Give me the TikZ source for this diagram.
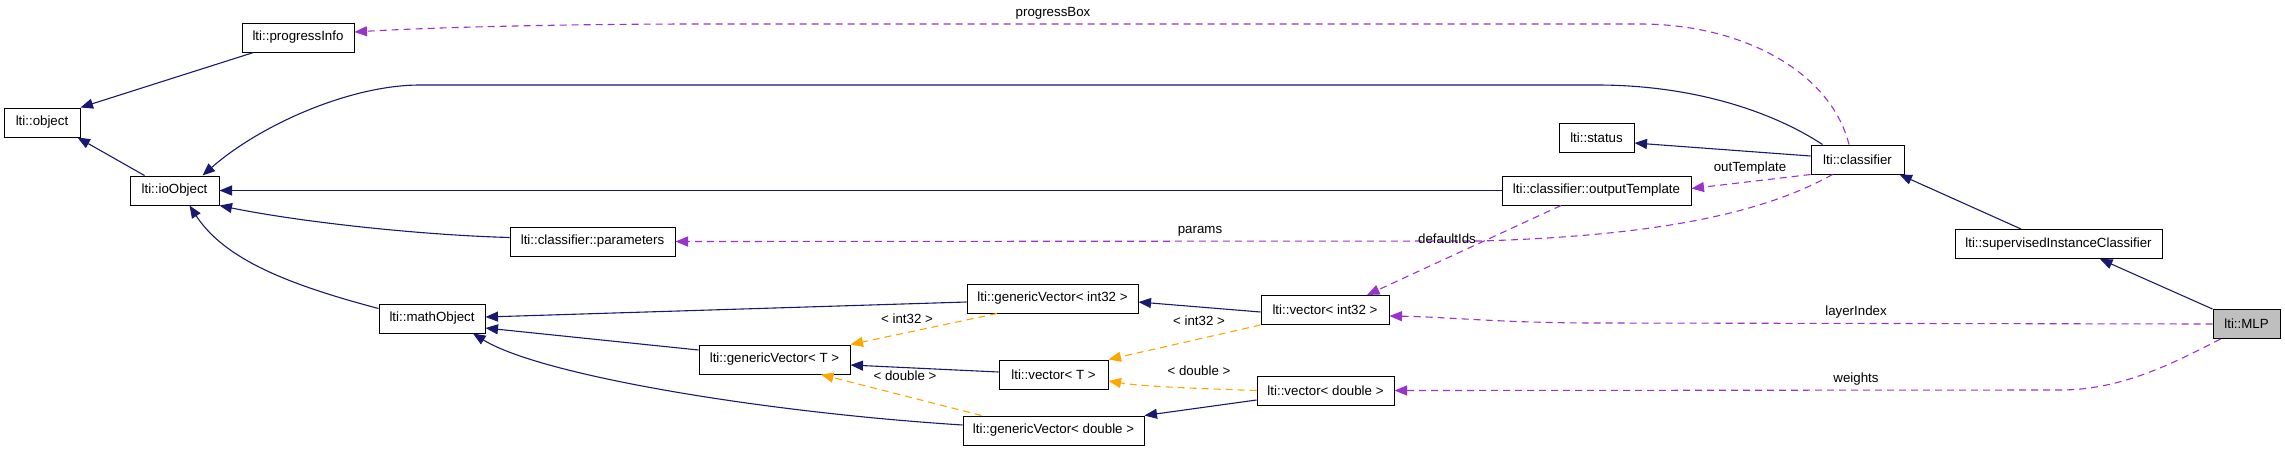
\documentclass[tikz,border=0pt]{standalone}
\usepackage{fontspec}
\setmainfont{Liberation Sans}
\usetikzlibrary{arrows.meta}

\definecolor{inhblue}{HTML}{191970}
\definecolor{usepurple}{HTML}{9A32CD}
\definecolor{tmplorange}{HTML}{FFA500}
\definecolor{selgray}{HTML}{BFBFBF}

\begin{document}
\begin{tikzpicture}[x=1pt, y=-1pt,
    font=\fontsize{13.3}{15}\selectfont,
    cls/.style={draw, rectangle, line width=1pt, text centered, minimum height=29pt, inner sep=0pt},
    inh/.style={inhblue, line width=1.1pt, -{Triangle[length=12.5pt,width=10pt]}},
    usage/.style={usepurple, line width=1.1pt, dash pattern=on 7pt off 5pt, -{Triangle[length=12.5pt,width=10pt]}},
    tmpl/.style={tmplorange, line width=1.1pt, dash pattern=on 7pt off 5pt, -{Triangle[length=12.5pt,width=10pt]}},
    lbl/.style={inner sep=0pt}]

    \useasboundingbox (0,0) rectangle (2285,451);

    % Nodes for the base classes
    \node (object) [cls, minimum width=76pt] at (42,122.5) {lti::object};
    \node (progressInfo) [cls, minimum width=112pt] at (298,37.5) {lti::progressInfo};
    \node (ioObject) [cls, minimum width=89pt] at (174.5,190.5) {lti::ioObject};
    \node (parameters) [cls, minimum width=165pt] at (592.5,241.5) {lti::classifier::parameters};
    \node (mathObject) [cls, minimum width=106pt] at (432,318.5) {lti::mathObject};

    % Nodes for the vector templates
    \node (gVint32) [cls, minimum width=171pt] at (1052.5,298.5) {lti::genericVector< int32 >};
    \node (gVT) [cls, minimum width=151pt] at (774.5,359.5) {lti::genericVector< T >};
    \node (gVdouble) [cls, minimum width=181pt] at (1053.5,430.5) {lti::genericVector< double >};
    \node (vint32) [cls, minimum width=128pt] at (1325,310) {lti::vector< int32 >};
    \node (vT) [cls, minimum width=109pt] at (1053.5,374.5) {lti::vector< T >};
    \node (vdouble) [cls, minimum width=137pt] at (1325.5,390.5) {lti::vector< double >};

    % Nodes for the classifiers
    \node (status) [cls, minimum width=75pt] at (1596.5,137.5) {lti::status};
    \node (classifier) [cls, minimum width=93pt] at (1857.5,159.5) {lti::classifier};
    \node (outputTemplate) [cls, minimum width=189pt] at (1596.5,190.5) {lti::classifier::outputTemplate};
    \node (sIC) [cls, minimum width=207pt] at (2058.5,244) {lti::supervisedInstanceClassifier};
    \node (MLP) [cls, minimum width=67pt, fill=selgray] at (2246.5,324) {lti::MLP};

    % Inheritance arrows
    \draw[inh] ([xshift=12]progressInfo.south west) -- (object.north east);
    \draw[inh] ([xshift=-30]ioObject.north) -- ([xshift=-3]object.south east);
    \draw[inh] ([xshift=12]classifier.north west) .. controls (1770,110) and (1690,85) .. (1597,85)
        -- (420,85) .. controls (350,85) and (260,125) .. ([xshift=28]ioObject.north);
    \draw[inh] (outputTemplate.west) -- (ioObject.east);
    \draw[inh] ([yshift=4]parameters.west) .. controls (420,235) and (300,222) .. (ioObject.south east);
    \draw[inh] ([yshift=-5]mathObject.north west) .. controls (290,285) and (225,260) .. ([xshift=15]ioObject.south);
    \draw[inh] ([yshift=-3.5]gVint32.west) -- ([yshift=1.5]mathObject.east);
    \draw[inh] ([yshift=9.5]gVT.west) -- ([yshift=-9.5]mathObject.east);
    \draw[inh] ([yshift=5.5]gVdouble.west) .. controls (760,412) and (540,375) .. ([xshift=41]mathObject.south);
    \draw[inh] ([yshift=-2]vint32.west) -- ([yshift=-3.5]gVint32.east);
    \draw[inh] ([yshift=2.5]vT.west) -- ([yshift=-5.5]gVT.east);
    \draw[inh] ([yshift=-9.5]vdouble.west) -- (gVdouble.north east);
    \draw[inh] ([yshift=3.5]classifier.west) -- ([yshift=-5.5]status.east);
    \draw[inh] ([xshift=-37.5]sIC.north) -- ([xshift=-5]classifier.south east);
    \draw[inh] (MLP.north west) -- ([xshift=41.5]sIC.south);

    % Template instances
    \draw[tmpl] ([xshift=-55.5]gVint32.south) -- (gVT.north east);
    \draw[tmpl] (vint32.south west) -- (vT.north east);
    \draw[tmpl] (vdouble.west) .. controls (1180,388) and (1140,386) .. ([yshift=-6.5]vT.east);
    \draw[tmpl] ([xshift=19]gVdouble.north west) -- ([xshift=46.5]gVT.south);
    \node (lblGVint) [lbl] at (907,319) {< int32 >};
    \node (lblVint) [lbl] at (1199,321) {< int32 >};
    \node (lblVdouble) [lbl] at (1199,371) {< double >};
    \node (lblGVdouble) [lbl] at (905,376) {< double >};

    % Usage arrows
    \draw[usage] ([xshift=-8.5]classifier.north) .. controls (1830,70) and (1740,24) .. (1640,24)
        -- (700,24) .. controls (550,24) and (420,28) .. ([yshift=5.5]progressInfo.east);
    \draw[usage] (classifier.south west) -- ([yshift=2]outputTemplate.east);
    \draw[usage] ([xshift=-25]classifier.south) .. controls (1760,215) and (1650,236) .. (1480,241)
        -- (parameters.east);
    \draw[usage] ([xshift=-35.5]outputTemplate.south) -- ([xshift=42]vint32.north);
    \draw[usage] (MLP.west) -- (1600,323) .. controls (1500,323) and (1450,317) .. ([yshift=-6]vint32.east);
    \draw[usage] ([xshift=8]MLP.south west) .. controls (2170,365) and (2120,390) .. (2060,390)
        -- (vdouble.east);
    \node (lblProgress) [lbl] at (1053,13) {progressBox};
    \node (lblOut) [lbl] at (1750,168) {outTemplate};
    \node (lblParams) [lbl] at (1200,231) {params};
    \node (lblDefault) [lbl] at (1447,239) {defaultIds};
    \node (lblLayer) [lbl] at (1856,312) {layerIndex};
    \node (lblWeights) [lbl] at (1856,379) {weights};

\end{tikzpicture}
\end{document}
